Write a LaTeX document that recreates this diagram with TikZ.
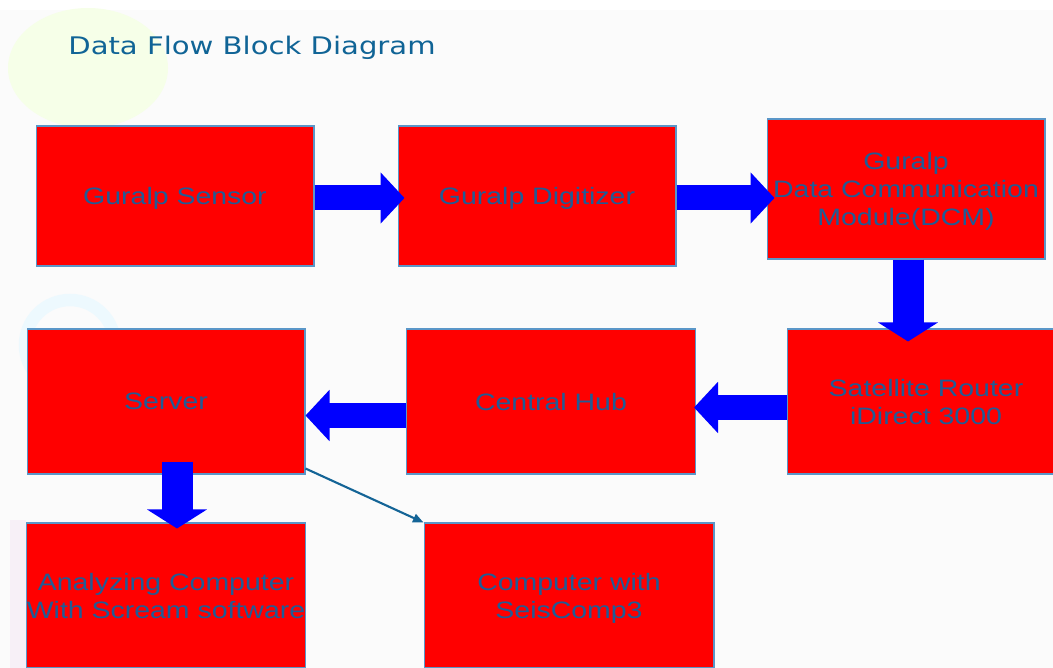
\documentclass[tikz,border=0pt]{standalone}
\usepackage{fontspec}
\usetikzlibrary{arrows.meta, calc}
\newfontfamily\boxfont{Liberation Sans}[FakeStretch=1.2]
\newfontfamily\titlefont{DejaVu Sans}[FakeStretch=1.2]
\definecolor{boxtext}{RGB}{32,92,150}
\definecolor{titleblue}{RGB}{16,100,150}
\definecolor{boxline}{RGB}{90,150,200}
\definecolor{flowblue}{RGB}{0,0,255}

\begin{document}
\begin{tikzpicture}[x=0.02cm, y=-0.02cm]

\tikzstyle{block} = [draw=boxline, fill=red, line width=0.6pt, shape=rectangle, minimum width=5.56cm, minimum height=2.9cm, inner sep=0pt, align=center, text=boxtext, font=\boxfont\fontsize{13.5}{16}\selectfont, text depth=0pt]
\tikzstyle{hflow} = [flowblue, line width=0.5cm, -{Triangle[length=0.48cm, width=1cm]}]
\tikzstyle{vflow} = [flowblue, line width=0.62cm, -{Triangle[length=0.38cm, width=1.18cm]}]
\tikzstyle{link} = [draw={rgb,255:red,20;green,100;blue,150}, line width=1.2pt, -{Triangle[length=6pt, width=5pt]}]

\useasboundingbox (0,0) rectangle (1053,668);
\fill[white!98.5!black] (0,10) rectangle (1053,668);

% faint background
\fill[green!40!yellow!9] (88,68) ellipse (80 and 60);
\draw[cyan!7, line width=0.25cm] (70,345) circle (45);
\fill[violet!6] (10,520) rectangle (26,668);

\node[anchor=base west, inner sep=0pt, text=titleblue, font=\titlefont\fontsize{13.8}{16}\selectfont] at (68,55) (title) {Data Flow Block Diagram};

\node [block, minimum height=2.8cm] at (175,196) (sensor) {Guralp Sensor};
\node [block, minimum height=2.8cm] at (537,196) (digitizer) {Guralp Digitizer};
\node [block, minimum height=2.8cm] at (906,189) (dcm) {Guralp\\Data Communication\\Module(DCM)};
\node [block] at (926,401.5) (satellite) {Satellite Router\\iDirect 3000};
\node [block, minimum width=5.78cm] at (551,401.5) (hub) {Central Hub};
\node [block] at (166,401.5) (server) {Server};
\node [block] at (166,595.5) (analyzing) {Analyzing Computer\\With Scream software};
\node [block, minimum width=5.8cm] at (569,595.5) (seiscomp) {Computer with\\SeisComp3};

\draw[hflow] ($(sensor.east)+(0,2)$) -- ($(digitizer.west)+(7,2)$);
\draw[hflow] ($(digitizer.east)+(0,2)$) -- ($(digitizer.east -| dcm.west)+(8,2)$);
\draw[vflow] ($(dcm.south)+(2,0)$) -- ($(dcm.south |- satellite.north)+(2,13)$);
\draw[hflow] ($(satellite.west)+(0,6)$) -- ($(hub.east)+(-2,6)$);
\draw[hflow] ($(hub.west)+(0,14)$) -- ($(server.east)+(0,14)$);
\draw[vflow] ($(server.south)+(11,-13)$) -- ($(analyzing.north)+(11,6)$);
\draw[link] ($(server.south east)+(0,-6)$) -- (seiscomp.north west);
\end{tikzpicture}
\end{document}
